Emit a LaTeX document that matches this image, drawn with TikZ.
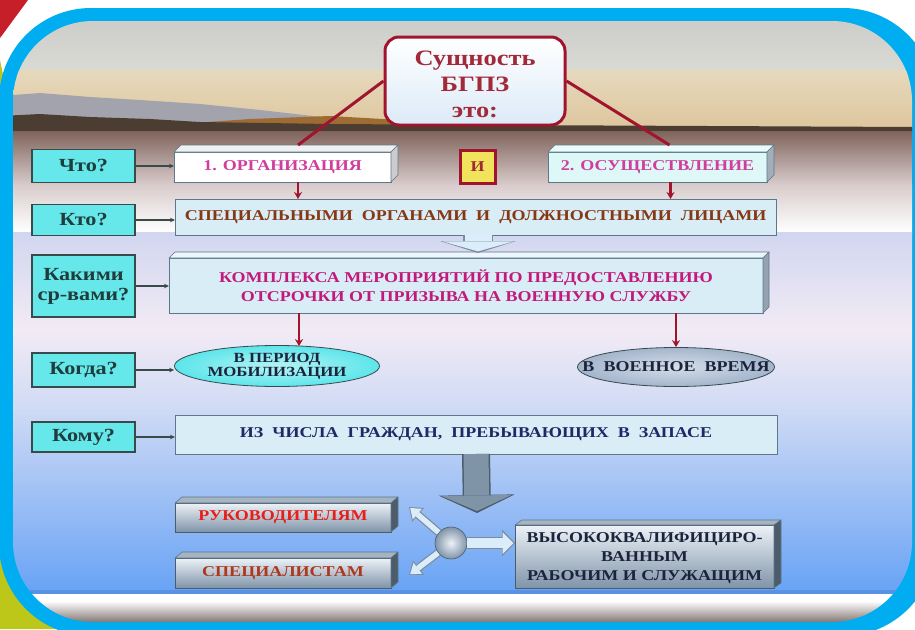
\documentclass[tikz,border=0pt]{standalone}
\usepackage{fontspec}
\setmainfont{Liberation Serif}[FakeStretch=1.2]
\usetikzlibrary{shapes.geometric, arrows.meta, calc, positioning}

\definecolor{FrameBlue}{rgb}{0.0,0.68,0.94}
\definecolor{Olive}{rgb}{0.74,0.78,0.10}
\definecolor{CornerRed}{rgb}{0.78,0.12,0.16}
\definecolor{DarkRed}{rgb}{0.63,0.08,0.18}
\definecolor{SkyTop}{rgb}{0.78,0.78,0.77}
\definecolor{SkyLow}{rgb}{0.86,0.86,0.84}
\definecolor{SandTop}{rgb}{0.90,0.85,0.74}
\definecolor{SandLow}{rgb}{0.87,0.78,0.62}
\definecolor{Hill}{rgb}{0.64,0.64,0.68}
\definecolor{Ground}{rgb}{0.30,0.24,0.20}
\definecolor{Rust}{rgb}{0.62,0.42,0.20}
\definecolor{Soil}{rgb}{0.50,0.39,0.36}
\definecolor{Mist}{rgb}{0.85,0.80,0.80}
\definecolor{Lav}{rgb}{0.82,0.84,0.94}
\definecolor{Blush}{rgb}{0.95,0.92,0.96}
\definecolor{PaleBlue}{rgb}{0.82,0.86,0.96}
\definecolor{MidBlue}{rgb}{0.62,0.78,0.97}
\definecolor{DeepSky}{rgb}{0.41,0.64,0.96}
\definecolor{SeaLine}{rgb}{0.35,0.57,0.90}
\definecolor{Dust}{rgb}{0.52,0.47,0.46}
\definecolor{QFill}{rgb}{0.40,0.91,0.92}
\definecolor{QEdge}{rgb}{0.22,0.29,0.29}
\definecolor{QText}{rgb}{0.12,0.24,0.24}
\definecolor{TitleFill}{rgb}{0.86,0.92,0.97}
\definecolor{TitleText}{rgb}{0.63,0.16,0.22}
\definecolor{Pink}{rgb}{0.82,0.24,0.61}
\definecolor{Magenta}{rgb}{0.76,0.10,0.48}
\definecolor{Brown}{rgb}{0.52,0.22,0.08}
\definecolor{Navy}{rgb}{0.12,0.16,0.40}
\definecolor{Ink}{rgb}{0.11,0.14,0.24}
\definecolor{BoxBlue}{rgb}{0.85,0.93,0.97}
\definecolor{BoxEdge}{rgb}{0.36,0.47,0.54}
\definecolor{CyanFace}{rgb}{0.87,0.97,0.97}
\definecolor{Lemon}{rgb}{0.95,0.89,0.36}
\definecolor{Steel}{rgb}{0.50,0.58,0.66}
\definecolor{SteelLight}{rgb}{0.93,0.95,0.97}
\definecolor{SteelDark}{rgb}{0.30,0.36,0.42}
\definecolor{RimGray}{rgb}{0.48,0.55,0.62}
\definecolor{ArrowFill}{rgb}{0.86,0.93,0.98}
\definecolor{Scarlet}{rgb}{0.90,0.12,0.10}
\definecolor{Rusty}{rgb}{0.68,0.22,0.12}
\definecolor{Lagoon}{rgb}{0.36,0.90,0.92}
\definecolor{Slate}{rgb}{0.64,0.71,0.80}

\tikzset{
  qbox/.style={draw=QEdge, fill=QFill, line width=1.2pt, minimum width=103pt,
    inner sep=0pt, outer sep=0pt, align=center, text=QText,
    font=\fontsize{18.5}{20}\selectfont\bfseries},
  flatbox/.style={draw=BoxEdge, fill=BoxBlue, line width=0.8pt, inner sep=0pt,
    outer sep=0pt, align=center, font=\fontsize{15}{19}\selectfont\bfseries},
  steelbox/.style={flatbox, draw=SteelDark, top color=SteelLight, bottom color=Steel},
  face/.style={draw=BoxEdge, line width=0.6pt, line join=round},
  oval/.style={ellipse, draw=QEdge, line width=0.8pt, inner sep=0pt, align=center,
    text=Ink, font=\fontsize{14}{14}\selectfont\bfseries},
  redline/.style={draw=DarkRed, line width=3pt},
  redarrow/.style={draw=DarkRed, line width=2.6pt, -{Stealth[length=7pt, width=8pt]}},
  askarrow/.style={draw=QEdge, line width=1.4pt, -{Stealth[length=5pt, width=4.5pt]}},
}

\begin{document}
\begin{tikzpicture}[x=1pt, y=-1pt]

    \useasboundingbox (0,0) rectangle (915,629);

    % slide corner
    \fill[white] (0,0) rectangle (915,629);
    \fill[CornerRed] (0,0) -- (28,0) -- (0,38) -- cycle;
    \fill[Olive] (0,60) -- (120,629) -- (0,629) -- cycle;

    % blue frame
    \fill[FrameBlue, rounded corners=92pt] (-1,8) rectangle (935,636);

    % picture inside the frame
    \begin{scope}
        \clip[rounded corners=80pt] (13,21) rectangle (912,622);
        \shade[top color=SkyTop, bottom color=SkyLow] (0,0) rectangle (915,76);
        \shade[top color=SandTop, bottom color=SandLow] (0,70) rectangle (915,127);
        \fill[Hill] (0,96) -- (40,93) -- (90,97) -- (140,100) -- (200,104)
            -- (260,110) -- (330,118) -- (330,127) -- (0,127) -- cycle;
        \fill[Rust] (180,124) -- (250,119) -- (330,116) -- (400,120) -- (430,126) -- cycle;
        \fill[Ground] (0,116) -- (40,114) -- (90,117) -- (150,119) -- (200,122)
            -- (330,124) -- (500,125) -- (915,127) -- (915,132) -- (0,132) -- cycle;
        \shade[top color=Soil, bottom color=Mist] (0,131) rectangle (915,185);
        \shade[top color=Mist, bottom color=white] (0,185) rectangle (915,232);
        \shade[top color=Lav, bottom color=Blush] (0,232) rectangle (915,330);
        \shade[top color=Blush, bottom color=PaleBlue] (0,330) rectangle (915,405);
        \shade[top color=PaleBlue, middle color=MidBlue, bottom color=DeepSky] (0,405) rectangle (915,591);
        \fill[SeaLine] (0,590) rectangle (915,594);
        \fill[white] (0,594) rectangle (915,601);
        \shade[top color=white, bottom color=Dust] (0,601) rectangle (915,622);
    \end{scope}

    % questions
    \node[qbox, minimum height=33pt] (qwhat) at (83.5,166) {Что?};
    \node[qbox, minimum height=31pt] (qwho) at (83.5,220) {Кто?};
    \node[qbox, minimum height=62pt] (qhow) at (83.5,286) {Какими\\ср-вами?};
    \node[qbox, minimum height=34pt] (qwhen) at (83.5,370) {Когда?};
    \node[qbox, minimum height=30pt] (qwhom) at (83.5,437) {Кому?};

    % title
    \node[draw=DarkRed, line width=3pt, rounded corners=14pt, top color=white,
        bottom color=TitleFill, minimum width=180pt, minimum height=88pt,
        align=center, text=TitleText, font=\fontsize{22}{26}\selectfont\bfseries]
        (title) at (475,81) {\rule{0pt}{21pt}Сущность\\БГПЗ\\это:};

    % answers
    \node[flatbox, fill=white, text=Pink, minimum width=217pt, minimum height=30pt]
        (org) at (282.5,167) {1. ОРГАНИЗАЦИЯ};
    \node[draw=DarkRed, line width=3pt, fill=Lemon, minimum width=35pt, minimum height=33pt,
        inner sep=0pt, text=TitleText, font=\fontsize{15}{15}\selectfont\bfseries]
        (and) at (477.5,166.5) {И};
    \node[flatbox, fill=CyanFace, text=Pink, minimum width=219pt, minimum height=30pt]
        (real) at (657.5,167) {2. ОСУЩЕСТВЛЕНИЕ};
    \node[flatbox, text=Brown, minimum width=601pt, minimum height=36pt]
        (who) at (475.5,217) {СПЕЦИАЛЬНЫМИ~~ОРГАНАМИ~~И~~ДОЛЖНОСТНЫМИ~~ЛИЦАМИ};
    \node[flatbox, text=Magenta, minimum width=594pt, minimum height=55pt]
        (means) at (466,285.5) {КОМПЛЕКСА МЕРОПРИЯТИЙ ПО ПРЕДОСТАВЛЕНИЮ\\ОТСРОЧКИ ОТ ПРИЗЫВА НА ВОЕННУЮ СЛУЖБУ};
    \node[oval, inner color=Lagoon!45, outer color=Lagoon, minimum width=205pt, minimum height=41pt]
        (mob) at (277,366) {В ПЕРИОД\\МОБИЛИЗАЦИИ};
    \node[oval, inner color=Slate!45, outer color=Slate, minimum width=197pt, minimum height=39pt,
        font=\fontsize{15}{15}\selectfont\bfseries]
        (war) at (676,367) {\makebox[0pt]{В~~ВОЕННОЕ~~ВРЕМЯ}};
    \node[flatbox, text=Navy, minimum width=602pt, minimum height=39pt]
        (whom) at (476,434.5) {ИЗ~~ЧИСЛА~~ГРАЖДАН,~~ПРЕБЫВАЮЩИХ~~В~~ЗАПАСЕ};
    \node[steelbox, text=Scarlet, minimum width=216pt, minimum height=29pt]
        (heads) at (283,517.5) {РУКОВОДИТЕЛЯМ};
    \node[steelbox, text=Rusty, minimum width=216pt, minimum height=30pt]
        (spec) at (283,573) {СПЕЦИАЛИСТАМ};
    \node[steelbox, text=Ink, minimum width=259pt, minimum height=63pt]
        (workers) at (644.5,556.5) {\rule{0pt}{14pt}ВЫСОКОКВАЛИФИЦИРО-\\ВАННЫМ\\РАБОЧИМ И СЛУЖАЩИМ};
    \node[circle, draw=SteelDark, line width=0.6pt, inner color=SteelLight, outer color=Steel,
        minimum size=32pt, inner sep=0pt] (hub) at (451,543) {};

    % 3d faces
    \filldraw[face, fill=gray!12] (org.north west) -- ++(7,-7) -- ($(org.north east)+(7,-7)$) -- (org.north east) -- cycle;
    \filldraw[face, fill=gray!40] (org.north east) -- ++(7,-7) -- ($(org.south east)+(7,-7)$) -- (org.south east) -- cycle;
    \filldraw[face, fill=CyanFace!60] (real.north west) -- ++(7,-7) -- ($(real.north east)+(7,-7)$) -- (real.north east) -- cycle;
    \filldraw[face, fill=RimGray!70] (real.north east) -- ++(7,-7) -- ($(real.south east)+(7,-7)$) -- (real.south east) -- cycle;
    \filldraw[face, fill=BoxBlue!50] (means.north west) -- ++(6,-6) -- ($(means.north east)+(6,-6)$) -- (means.north east) -- cycle;
    \filldraw[face, fill=RimGray!80] (means.north east) -- ++(6,-6) -- ($(means.south east)+(6,-6)$) -- (means.south east) -- cycle;
    \filldraw[face, fill=Steel!70] (heads.north west) -- ++(7,-6) -- ($(heads.north east)+(7,-6)$) -- (heads.north east) -- cycle;
    \filldraw[face, fill=SteelDark] (heads.north east) -- ++(7,-6) -- ($(heads.south east)+(7,-6)$) -- (heads.south east) -- cycle;
    \filldraw[face, fill=Steel!70] (spec.north west) -- ++(7,-6) -- ($(spec.north east)+(7,-6)$) -- (spec.north east) -- cycle;
    \filldraw[face, fill=SteelDark] (spec.north east) -- ++(7,-6) -- ($(spec.south east)+(7,-6)$) -- (spec.south east) -- cycle;
    \filldraw[face, fill=Steel!70] (workers.north west) -- ++(7,-5) -- ($(workers.north east)+(7,-5)$) -- (workers.north east) -- cycle;
    \filldraw[face, fill=SteelDark] (workers.north east) -- ++(7,-5) -- ($(workers.south east)+(7,-5)$) -- (workers.south east) -- cycle;

    % title links
    \draw[redline] (title.west) -- ([xshift=15.5pt, yshift=7pt]org.north);
    \draw[redline] (title.east) -- ([xshift=12pt, yshift=7pt]real.north);

    % question arrows
    \draw[askarrow] (qwhat.east) -- (qwhat.east -| org.west);
    \draw[askarrow] (qwho.east) -- (qwho.east -| who.west);
    \draw[askarrow] (qhow.east) -- (qhow.east -| means.west);
    \draw[askarrow] (qwhen.east) -- (qwhen.east -| mob.west);
    \draw[askarrow] (qwhom.east) -- (qwhom.east -| whom.west);

    % red arrows
    \draw[redarrow] ($(org.south)+(15.5,0)$) -- ($(org.south |- who.north)+(15.5,0)$);
    \draw[redarrow] ($(real.south)+(13,0)$) -- ($(real.south |- who.north)+(13,0)$);
    \draw[redarrow] ($(mob.north |- means.south)+(22,0)$) -- ($(mob.north)+(22,1)$);
    \draw[redarrow] (war.north |- means.south) -- (war.north);

    % block arrows
    \draw[line width=30pt, RimGray, -{Triangle[length=12pt, width=76pt, line width=0pt]}]
        ($(who.south)+(2.5,0)$) -- ($(who.south |- means.north)+(2.5,-5)$);
    \draw[line width=27pt, ArrowFill, shorten >=1.6pt, -{Triangle[length=10pt, width=71pt, line width=0pt]}]
        ($(who.south)+(2.5,0)$) -- ($(who.south |- means.north)+(2.5,-5)$);
    \draw[line width=28pt, SteelDark, -{Triangle[length=18pt, width=76pt, line width=0pt]}]
        (whom.south) -- ($(whom.south |- heads.north)+(1,10)$);
    \draw[line width=25pt, Steel, shorten >=2pt, -{Triangle[length=15.5pt, width=70pt, line width=0pt]}]
        (whom.south) -- ($(whom.south |- heads.north)+(1,10)$);

    % from the hub
    \draw[line width=8pt, RimGray, -{Triangle[length=12pt, width=18pt, line width=0pt]}]
        (hub) -- ($(heads.south east)+(18,-25)$);
    \draw[line width=5.5pt, ArrowFill, shorten >=1.5pt, -{Triangle[length=9.5pt, width=14pt, line width=0pt]}]
        (hub) -- ($(heads.south east)+(18,-25)$);
    \draw[line width=8pt, RimGray, -{Triangle[length=12pt, width=18pt, line width=0pt]}]
        (hub) -- ($(spec.north east)+(18,17)$);
    \draw[line width=5.5pt, ArrowFill, shorten >=1.5pt, -{Triangle[length=9.5pt, width=14pt, line width=0pt]}]
        (hub) -- ($(spec.north east)+(18,17)$);
    \draw[line width=12pt, RimGray, -{Triangle[length=13pt, width=27pt, line width=0pt]}]
        (hub) -- (hub -| workers.west);
    \draw[line width=9.5pt, ArrowFill, shorten >=1.5pt, -{Triangle[length=11pt, width=22pt, line width=0pt]}]
        (hub) -- (hub -| workers.west);

\end{tikzpicture}
\end{document}
